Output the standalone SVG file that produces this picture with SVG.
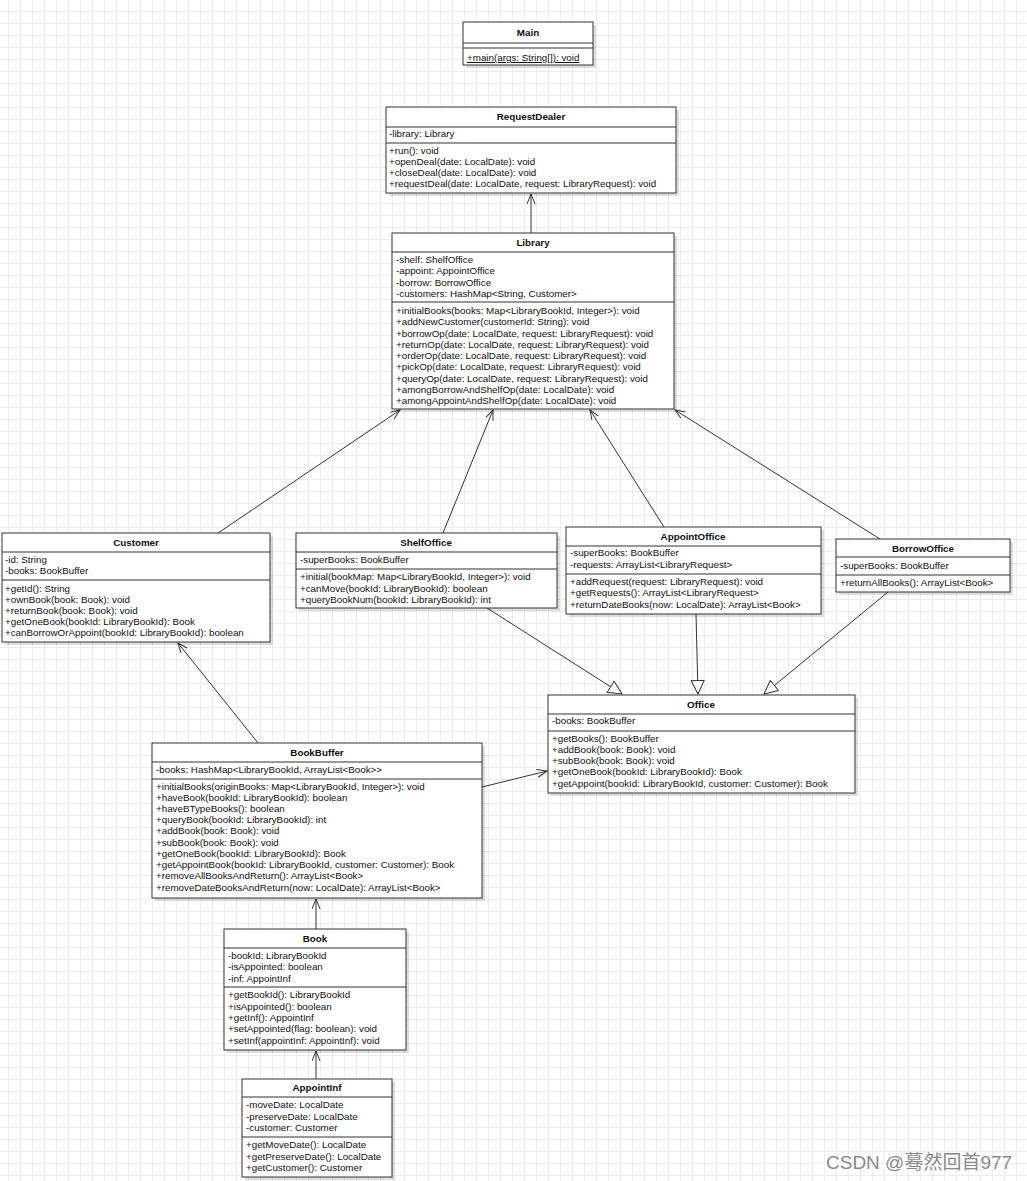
<svg xmlns="http://www.w3.org/2000/svg" width="1027" height="1181" viewBox="0 0 1027 1181">
<style>
text{font-family:"Liberation Sans",Arial,sans-serif;font-size:9.8px;fill:#111}
.t{font-weight:bold;text-anchor:middle}
.box{fill:#fff;stroke:#333;stroke-width:1}
.sh{fill:#000;opacity:0.13}
.sep{stroke:#333;stroke-width:1}
.c line{stroke:#333;stroke-width:1;fill:none}
.wm{font-size:19px;fill:#8a8a8a;font-family:"Liberation Sans","Noto Sans CJK SC",sans-serif}
</style>
<defs>
<pattern id="grid" x="8" y="11" width="12" height="12" patternUnits="userSpaceOnUse">
<path d="M0.5,0 V12 M0,0.5 H12" stroke="#ededed" stroke-width="1" fill="none"/>
</pattern>
<marker id="arr" markerUnits="userSpaceOnUse" markerWidth="12" markerHeight="10" refX="10" refY="4" orient="auto">
<path d="M0,0 L10,4 L0,8" fill="none" stroke="#333" stroke-width="1"/>
</marker>
<marker id="tri" markerUnits="userSpaceOnUse" markerWidth="16" markerHeight="16" refX="14" refY="7" orient="auto">
<path d="M0.5,0.5 L14,7 L0.5,13.5 Z" fill="#fff" stroke="#333" stroke-width="1"/>
</marker>
</defs>
<rect width="1027" height="1181" fill="#fff"/>
<rect width="1027" height="1181" fill="url(#grid)"/>

<g class="c" id="connectors">
<line x1="531" y1="233" x2="531" y2="194" marker-end="url(#arr)"/>
<line x1="218" y1="533" x2="400" y2="410" marker-end="url(#arr)"/>
<line x1="443" y1="533" x2="493" y2="410" marker-end="url(#arr)"/>
<line x1="664" y1="527" x2="590" y2="410" marker-end="url(#arr)"/>
<line x1="880" y1="539" x2="675" y2="410" marker-end="url(#arr)"/>
<line x1="487" y1="608" x2="622" y2="694" marker-end="url(#tri)"/>
<line x1="696" y1="614" x2="698" y2="694" marker-end="url(#tri)"/>
<line x1="888" y1="592" x2="764" y2="694" marker-end="url(#tri)"/>
<line x1="258" y1="743" x2="178" y2="643" marker-end="url(#arr)"/>
<line x1="482" y1="787" x2="547" y2="771" marker-end="url(#arr)"/>
<line x1="316" y1="929" x2="316" y2="899" marker-end="url(#arr)"/>
<line x1="316" y1="1079" x2="316" y2="1051" marker-end="url(#arr)"/>
</g>

<g id="Main">
<rect class="sh" x="466" y="25" width="130" height="43"/>
<rect class="box" x="463" y="22" width="130" height="43"/>
<text class="t" x="528" y="36">Main</text>
<line class="sep" x1="463" y1="43" x2="593" y2="43"/>
<line class="sep" x1="463" y1="48" x2="593" y2="48"/>
<text x="467" y="61" text-decoration="underline">+main(args: String[]): void</text>
</g>

<g id="RequestDealer">
<rect class="sh" x="389" y="110" width="290" height="86"/>
<rect class="box" x="386" y="107" width="290" height="86"/>
<text class="t" x="531" y="120">RequestDealer</text>
<line class="sep" x1="386" y1="127" x2="676" y2="127"/>
<text x="389" y="137">-library: Library</text>
<line class="sep" x1="386" y1="143" x2="676" y2="143"/>
<text x="389" y="154">+run(): void</text>
<text x="389" y="165">+openDeal(date: LocalDate): void</text>
<text x="389" y="176">+closeDeal(date: LocalDate): void</text>
<text x="389" y="187">+requestDeal(date: LocalDate, request: LibraryRequest): void</text>
</g>

<g id="Library">
<rect class="sh" x="395" y="236" width="282" height="176"/>
<rect class="box" x="392" y="233" width="282" height="176"/>
<text class="t" x="533" y="246">Library</text>
<line class="sep" x1="392" y1="252" x2="674" y2="252"/>
<text x="396" y="263">-shelf: ShelfOffice</text>
<text x="396" y="274">-appoint: AppointOffice</text>
<text x="396" y="286">-borrow: BorrowOffice</text>
<text x="396" y="297">-customers: HashMap&lt;String, Customer&gt;</text>
<line class="sep" x1="392" y1="302" x2="674" y2="302"/>
<text x="396" y="314">+initialBooks(books: Map&lt;LibraryBookId, Integer&gt;): void</text>
<text x="396" y="325">+addNewCustomer(customerId: String): void</text>
<text x="396" y="337">+borrowOp(date: LocalDate, request: LibraryRequest): void</text>
<text x="396" y="348">+returnOp(date: LocalDate, request: LibraryRequest): void</text>
<text x="396" y="359">+orderOp(date: LocalDate, request: LibraryRequest): void</text>
<text x="396" y="370">+pickOp(date: LocalDate, request: LibraryRequest): void</text>
<text x="396" y="382">+queryOp(date: LocalDate, request: LibraryRequest): void</text>
<text x="396" y="393">+amongBorrowAndShelfOp(date: LocalDate): void</text>
<text x="396" y="404">+amongAppointAndShelfOp(date: LocalDate): void</text>
</g>

<g id="Customer">
<rect class="sh" x="5" y="536" width="268" height="109"/>
<rect class="box" x="2" y="533" width="268" height="109"/>
<text class="t" x="136" y="546">Customer</text>
<line class="sep" x1="2" y1="552" x2="270" y2="552"/>
<text x="5" y="563">-id: String</text>
<text x="5" y="574">-books: BookBuffer</text>
<line class="sep" x1="2" y1="580" x2="270" y2="580"/>
<text x="5" y="592">+getId(): String</text>
<text x="5" y="603">+ownBook(book: Book): void</text>
<text x="5" y="614">+returnBook(book: Book): void</text>
<text x="5" y="625">+getOneBook(bookId: LibraryBookId): Book</text>
<text x="5" y="636">+canBorrowOrAppoint(bookId: LibraryBookId): boolean</text>
</g>

<g id="ShelfOffice">
<rect class="sh" x="299" y="536" width="261" height="75"/>
<rect class="box" x="296" y="533" width="261" height="75"/>
<text class="t" x="426" y="546">ShelfOffice</text>
<line class="sep" x1="296" y1="552" x2="557" y2="552"/>
<text x="300" y="563">-superBooks: BookBuffer</text>
<line class="sep" x1="296" y1="569" x2="557" y2="569"/>
<text x="300" y="580">+initial(bookMap: Map&lt;LibraryBookId, Integer&gt;): void</text>
<text x="300" y="592">+canMove(bookId: LibraryBookId): boolean</text>
<text x="300" y="603">+queryBookNum(bookId: LibraryBookId): int</text>
</g>

<g id="AppointOffice">
<rect class="sh" x="569" y="530" width="255" height="87"/>
<rect class="box" x="566" y="527" width="255" height="87"/>
<text class="t" x="693" y="540">AppointOffice</text>
<line class="sep" x1="566" y1="546" x2="821" y2="546"/>
<text x="570" y="556">-superBooks: BookBuffer</text>
<text x="570" y="568">-requests: ArrayList&lt;LibraryRequest&gt;</text>
<line class="sep" x1="566" y1="574" x2="821" y2="574"/>
<text x="570" y="585">+addRequest(request: LibraryRequest): void</text>
<text x="570" y="596">+getRequests(): ArrayList&lt;LibraryRequest&gt;</text>
<text x="570" y="608">+returnDateBooks(now: LocalDate): ArrayList&lt;Book&gt;</text>
</g>

<g id="BorrowOffice">
<rect class="sh" x="839" y="542" width="174" height="53"/>
<rect class="box" x="836" y="539" width="174" height="53"/>
<text class="t" x="923" y="552">BorrowOffice</text>
<line class="sep" x1="836" y1="557" x2="1010" y2="557"/>
<text x="840" y="569">-superBooks: BookBuffer</text>
<line class="sep" x1="836" y1="575" x2="1010" y2="575"/>
<text x="840" y="586">+returnAllBooks(): ArrayList&lt;Book&gt;</text>
</g>

<g id="Office">
<rect class="sh" x="551" y="698" width="307" height="98"/>
<rect class="box" x="548" y="695" width="307" height="98"/>
<text class="t" x="701" y="708">Office</text>
<line class="sep" x1="548" y1="714" x2="855" y2="714"/>
<text x="552" y="724">-books: BookBuffer</text>
<line class="sep" x1="548" y1="731" x2="855" y2="731"/>
<text x="552" y="742">+getBooks(): BookBuffer</text>
<text x="552" y="753">+addBook(book: Book): void</text>
<text x="552" y="764">+subBook(book: Book): void</text>
<text x="552" y="775">+getOneBook(bookId: LibraryBookId): Book</text>
<text x="552" y="787">+getAppoint(bookId: LibraryBookId, customer: Customer): Book</text>
</g>

<g id="BookBuffer">
<rect class="sh" x="155" y="746" width="330" height="155"/>
<rect class="box" x="152" y="743" width="330" height="155"/>
<text class="t" x="317" y="756">BookBuffer</text>
<line class="sep" x1="152" y1="762" x2="482" y2="762"/>
<text x="156" y="773">-books: HashMap&lt;LibraryBookId, ArrayList&lt;Book&gt;&gt;</text>
<line class="sep" x1="152" y1="779" x2="482" y2="779"/>
<text x="156" y="790">+initialBooks(originBooks: Map&lt;LibraryBookId, Integer&gt;): void</text>
<text x="156" y="801">+haveBook(bookId: LibraryBookId): boolean</text>
<text x="156" y="812">+haveBTypeBooks(): boolean</text>
<text x="156" y="823">+queryBook(bookId: LibraryBookId): int</text>
<text x="156" y="834">+addBook(book: Book): void</text>
<text x="156" y="846">+subBook(book: Book): void</text>
<text x="156" y="857">+getOneBook(bookId: LibraryBookId): Book</text>
<text x="156" y="868">+getAppointBook(bookId: LibraryBookId, customer: Customer): Book</text>
<text x="156" y="879">+removeAllBooksAndReturn(): ArrayList&lt;Book&gt;</text>
<text x="156" y="891">+removeDateBooksAndReturn(now: LocalDate): ArrayList&lt;Book&gt;</text>
</g>

<g id="Book">
<rect class="sh" x="227" y="932" width="182" height="121"/>
<rect class="box" x="224" y="929" width="182" height="121"/>
<text class="t" x="315" y="942">Book</text>
<line class="sep" x1="224" y1="948" x2="406" y2="948"/>
<text x="228" y="959">-bookId: LibraryBookId</text>
<text x="228" y="970">-isAppointed: boolean</text>
<text x="228" y="982">-inf: AppointInf</text>
<line class="sep" x1="224" y1="987" x2="406" y2="987"/>
<text x="228" y="998">+getBookId(): LibraryBookId</text>
<text x="228" y="1010">+isAppointed(): boolean</text>
<text x="228" y="1021">+getInf(): AppointInf</text>
<text x="228" y="1032">+setAppointed(flag: boolean): void</text>
<text x="228" y="1044">+setInf(appointInf: AppointInf): void</text>
</g>

<g id="AppointInf">
<rect class="sh" x="245" y="1082" width="150" height="98"/>
<rect class="box" x="242" y="1079" width="150" height="98"/>
<text class="t" x="317" y="1091">AppointInf</text>
<line class="sep" x1="242" y1="1097" x2="392" y2="1097"/>
<text x="246" y="1108">-moveDate: LocalDate</text>
<text x="246" y="1120">-preserveDate: LocalDate</text>
<text x="246" y="1131">-customer: Customer</text>
<line class="sep" x1="242" y1="1137" x2="392" y2="1137"/>
<text x="246" y="1148">+getMoveDate(): LocalDate</text>
<text x="246" y="1160">+getPreserveDate(): LocalDate</text>
<text x="246" y="1171">+getCustomer(): Customer</text>
</g>

<text class="wm" x="826" y="1169">CSDN @蓦然回首977</text>
</svg>
